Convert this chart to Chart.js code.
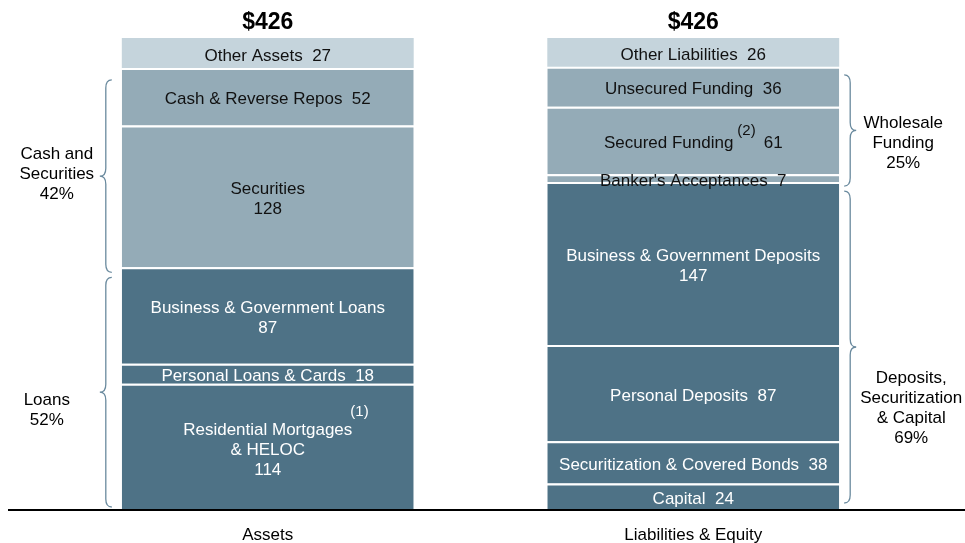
<!DOCTYPE html>
<html>
<head>
<meta charset="utf-8">
<script src="https://cdn.jsdelivr.net/npm/chart.js@4.4.1/dist/chart.umd.min.js"></script>
<style>
  html, body { margin: 0; padding: 0; background: #fff; }
  #wrap { width: 965px; height: 543px; position: relative; }
</style>
</head>
<body>
<div id="wrap"><canvas id="chart"></canvas></div>
<script>
// data
const categories = ['Assets', 'Liabilities & Equity'];
const totalLabels = ['$426', '$426'];

const assetNames = [['Residential Mortgages', '& HELOC'], ['Personal Loans & Cards'], ['Business & Government Loans'], ['Securities'], ['Cash & Reverse Repos'], ['Other Assets']];
const assetValues = [114, 18, 87, 128, 52, 27];
const assetValueOwnLine = [true, false, true, true, false, false];
const assetNotes = ['(1)', '', '', '', '', ''];

const liabNames = [['Capital'], ['Securitization & Covered Bonds'], ['Personal Deposits'], ['Business & Government Deposits'], ["Banker's Acceptances"], ['Secured Funding'], ['Unsecured Funding'], ['Other Liabilities']];
const liabValues = [24, 38, 87, 147, 7, 61, 36, 26];
const liabValueOwnLine = [false, false, false, true, false, false, false, false];
const liabNotes = ['', '', '', '', '', '(2)', '', ''];

// brackets: which segments (first..last) each one spans
const leftGroupNames = [['Cash and', 'Securities', '42%'], ['Loans', '52%']];
const leftGroupSegs = [[3, 4], [0, 2]];
const rightGroupNames = [['Wholesale', 'Funding', '25%'], ['Deposits,', 'Securitization', '& Capital', '69%']];
const rightGroupSegs = [[4, 6], [0, 3]];

// styles
const FONT = "'Liberation Sans', Arial, sans-serif";
const DARK = '#4e7286', MID = '#94abb7', LIGHT = '#c5d4dc';
const assetColors = [DARK, DARK, DARK, MID, MID, LIGHT];
const liabColors = [DARK, DARK, DARK, DARK, MID, MID, MID, LIGHT];
const leftBrace = [{inset: [12, -5], dx: -65, dy: -2}, {inset: [10, 3], dx: -75, dy: 18}];
const rightBrace = [{inset: [8, -4], dx: 64, dy: 13}, {inset: [9, 7], dx: 72, dy: 61}];

const datasets = [];
assetValues.forEach((v, i) => datasets.push({
  label: assetNames[i].join(' '), data: [v, null], backgroundColor: assetColors[i],
  side: 0, idx: i, names: assetNames[i], own: assetValueOwnLine[i], note: assetNotes[i],
  borderWidth: {top: i === assetValues.length - 1 ? 0 : 2, left: 0, right: 0, bottom: 0}
}));
liabValues.forEach((v, i) => datasets.push({
  label: liabNames[i].join(' '), data: [null, v], backgroundColor: liabColors[i],
  side: 1, idx: i, names: liabNames[i], own: liabValueOwnLine[i], note: liabNotes[i],
  borderWidth: {top: i === liabValues.length - 1 ? 0 : 2, left: 0, right: 0, bottom: 0}
}));
datasets.forEach(d => { d.borderColor = '#fff'; d.borderSkipped = false; d.barPercentage = 1; d.categoryPercentage = 0.686; });

function segEl(chart, side, idx){
  const di = side === 0 ? idx : assetValues.length + idx;
  return chart.getDatasetMeta(di).data[side];
}

function brace(ctx, xb, xt, top, bottom){
  const xm = (xb + xt) / 2, mid = (top + bottom) / 2, r = 8;
  ctx.beginPath();
  ctx.moveTo(xb, top);
  ctx.quadraticCurveTo(xm, top, xm, top + r);
  ctx.lineTo(xm, mid - r);
  ctx.quadraticCurveTo(xm, mid, xt, mid);
  ctx.quadraticCurveTo(xm, mid, xm, mid + r);
  ctx.lineTo(xm, bottom - r);
  ctx.quadraticCurveTo(xm, bottom, xb, bottom);
  ctx.stroke();
  return mid;
}

const decor = {
  id: 'decor',
  afterDatasetsDraw(chart){
    const ctx = chart.ctx, xs = chart.scales.x, area = chart.chartArea;
    ctx.save();
    ctx.textBaseline = 'middle';

    // segment labels
    chart.data.datasets.forEach((ds, di) => {
      const el = chart.getDatasetMeta(di).data[ds.side];
      const {x, y, base} = el.getProps(['x', 'y', 'base'], true);
      const cy = (y + base) / 2 + 3;
      const val = String(ds.data[ds.side]);
      ctx.fillStyle = ds.backgroundColor === DARK ? '#fff' : '#111';
      const lines = ds.own ? ds.names.concat([val]) : ds.names.slice();
      const lh = 20;
      let y0 = cy - (lines.length - 1) * lh / 2;
      ctx.font = '17px ' + FONT;
      if (!ds.own && ds.note) {
        const name = lines[0];
        const wn = ctx.measureText(name).width;
        ctx.font = '15px ' + FONT;
        const wnote = ctx.measureText(ds.note).width;
        ctx.font = '17px ' + FONT;
        const wv = ctx.measureText(val).width;
        const total = wn + 4 + wnote + 8 + wv;
        let sx = x - total / 2;
        ctx.textAlign = 'left';
        ctx.fillText(name, sx, y0);
        ctx.font = '15px ' + FONT;
        ctx.fillText(ds.note, sx + wn + 4, y0 - 13);
        ctx.font = '17px ' + FONT;
        ctx.fillText(val, sx + wn + 4 + wnote + 8, y0);
        return;
      }
      if (!ds.own) lines[lines.length - 1] += '  ' + val;
      ctx.textAlign = 'center';
      lines.forEach((t, k) => ctx.fillText(t, x, y0 + k * lh));
      if (ds.note) {
        const w = ctx.measureText(lines[0]).width;
        ctx.font = '15px ' + FONT;
        ctx.textAlign = 'left';
        ctx.fillText(ds.note, x + w / 2 - 2, y0 - 18);
      }
    });

    // totals above bars
    ctx.fillStyle = '#000';
    ctx.textAlign = 'center';
    ctx.font = 'bold 23px ' + FONT;
    categories.forEach((c, i) => ctx.fillText(totalLabels[i], xs.getPixelForValue(i), 23));

    // category labels
    ctx.font = '17px ' + FONT;
    categories.forEach((c, i) => ctx.fillText(c, xs.getPixelForValue(i), 535));

    // braces
    ctx.strokeStyle = '#6a8a9e';
    ctx.lineWidth = 1.3;
    const drawGroups = (names, segs, style, side) => {
      names.forEach((lines, g) => {
        const topEl = segEl(chart, side, segs[g][1]).getProps(['x', 'y', 'width'], true);
        const botEl = segEl(chart, side, segs[g][0]).getProps(['base'], true);
        const top = topEl.y + style[g].inset[0];
        const bottom = botEl.base - style[g].inset[1];
        const edge = side === 0 ? topEl.x - topEl.width / 2 : topEl.x + topEl.width / 2;
        const xb = side === 0 ? edge - 10 : edge + 5;
        const xt = side === 0 ? edge - 22 : edge + 17;
        const mid = brace(ctx, xb, xt, top, bottom);
        ctx.font = '17px ' + FONT;
        ctx.fillStyle = '#000';
        ctx.textAlign = 'center';
        const cx = edge + style[g].dx, cy = mid + style[g].dy;
        lines.forEach((t, k) => ctx.fillText(t, cx, cy + (k - (lines.length - 1) / 2) * 20));
      });
    };
    drawGroups(leftGroupNames, leftGroupSegs, leftBrace, 0);
    drawGroups(rightGroupNames, rightGroupSegs, rightBrace, 1);

    // base line
    ctx.strokeStyle = '#000';
    ctx.lineWidth = 2;
    ctx.beginPath();
    ctx.moveTo(8, area.bottom);
    ctx.lineTo(965, area.bottom);
    ctx.stroke();
    ctx.restore();
  }
};

new Chart(document.getElementById('chart'), {
  type: 'bar',
  data: { labels: categories, datasets },
  options: {
    responsive: true,
    maintainAspectRatio: false,
    animation: false,
    layout: { padding: { top: 38, bottom: 33, left: 55, right: 59 } },
    scales: {
      x: { display: false, stacked: true },
      y: { display: false, stacked: true, min: 0, max: 426 }
    },
    plugins: { legend: { display: false }, tooltip: { enabled: false } }
  },
  plugins: [decor]
});
</script>
</body>
</html>
